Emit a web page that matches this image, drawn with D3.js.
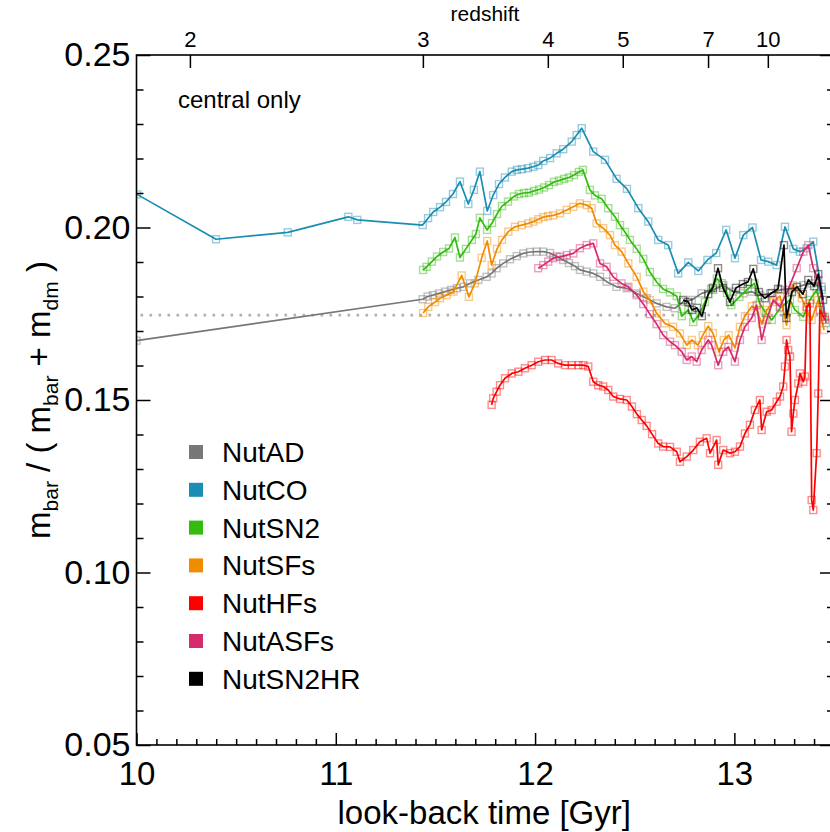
<!DOCTYPE html>
<html>
<head>
<meta charset="utf-8">
<script src="https://cdn.jsdelivr.net/npm/d3@7"></script>
<style>
  html, body { margin: 0; padding: 0; background: #fff; }
  svg { display: block; font-family: "Liberation Sans", Arial, Helvetica, sans-serif; }
</style>
</head>
<body>
<svg id="chart" width="830" height="832"></svg>
<script>
// ---------------- DATA ----------------
const seriesNames = ["NutAD", "NutCO", "NutSN2", "NutSFs", "NutHFs", "NutASFs", "NutSN2HR"];
const seriesColors = ["#777777", "#1a8db3", "#33bb0e", "#f08c00", "#ff0000", "#d62a6e", "#000000"];

const xTicks = [10, 11, 12, 13];
const yTicks = [0.05, 0.10, 0.15, 0.20, 0.25];
const redshiftLabels = ["2", "3", "4", "5", "7", "10"];
const redshiftTimes = [10.268, 11.437, 12.064, 12.44, 12.868, 13.168];
const cosmicFraction = 0.1746;

const dataAD = [
 [10.0,0.1672],[11.436,0.1792],[11.461,0.1800],[11.488,0.1804],[11.518,0.1809],[11.548,0.1814],
 [11.578,0.1819],[11.608,0.1824],[11.640,0.1828],[11.673,0.1838],[11.715,0.1848],[11.757,0.1857],
 [11.782,0.1867],[11.807,0.1882],[11.840,0.1896],[11.874,0.1908],[11.908,0.1917],[11.941,0.1925],
 [11.974,0.1929],[12.008,0.1930],[12.041,0.1930],[12.075,0.1926],[12.108,0.1916],[12.141,0.1906],
 [12.170,0.1897],[12.200,0.1888],[12.225,0.1877],[12.259,0.1872],[12.292,0.1867],[12.326,0.1857],
 [12.359,0.1843],[12.409,0.1828],[12.460,0.1824],[12.510,0.1809],[12.560,0.1795],[12.610,0.1780],
 [12.660,0.1770],[12.702,0.1766],[12.744,0.1785],[12.786,0.1790],[12.836,0.1809],[12.894,0.1819],
 [12.944,0.1833],[12.994,0.1814],[13.045,0.1809],[13.087,0.1814],[13.129,0.1804],[13.179,0.1809],
 [13.229,0.1819],[13.296,0.1824],[13.346,0.1833],[13.388,0.1838],[13.438,0.1828]
];
const dataCO = [
 [10.003,0.2096],[10.399,0.1966],[10.759,0.1986],[11.063,0.2031],[11.108,0.2022],[11.436,0.2007],
 [11.463,0.2027],[11.489,0.2045],[11.523,0.2059],[11.553,0.2074],[11.588,0.2097],[11.623,0.2133],
 [11.665,0.2068],[11.693,0.2109],[11.723,0.2162],[11.760,0.2048],[11.790,0.2094],[11.819,0.2126],
 [11.849,0.2145],[11.883,0.2162],[11.909,0.2167],[11.934,0.2169],[11.964,0.2172],[11.991,0.2176],
 [12.016,0.2181],[12.041,0.2193],[12.075,0.2201],[12.108,0.2215],[12.141,0.2227],[12.184,0.2249],
 [12.209,0.2268],[12.234,0.2288],[12.292,0.2220],[12.351,0.2196],[12.409,0.2141],[12.461,0.2112],
 [12.518,0.2056],[12.568,0.2017],[12.618,0.1964],[12.668,0.1949],[12.718,0.1867],[12.769,0.1899],
 [12.819,0.1874],[12.865,0.1906],[12.909,0.1926],[12.959,0.1993],[13.003,0.1911],[13.045,0.1978],
 [13.091,0.2000],[13.134,0.1906],[13.170,0.1901],[13.212,0.1891],[13.254,0.2002],[13.296,0.1938],
 [13.329,0.1930],[13.363,0.1940],[13.396,0.1959],[13.438,0.1819],[13.460,0.1723]
];
const dataSN2 = [
 [11.438,0.1877],[11.456,0.1886],[11.482,0.1901],[11.508,0.1916],[11.539,0.1929],[11.568,0.1939],
 [11.598,0.1971],[11.623,0.1913],[11.653,0.1938],[11.683,0.1964],[11.703,0.1981],[11.723,0.2028],
 [11.759,0.1993],[11.784,0.2013],[11.809,0.2039],[11.834,0.2062],[11.864,0.2075],[11.894,0.2090],
 [11.919,0.2097],[11.944,0.2100],[11.969,0.2101],[11.994,0.2106],[12.020,0.2110],[12.045,0.2116],
 [12.070,0.2123],[12.095,0.2132],[12.120,0.2136],[12.145,0.2141],[12.170,0.2145],[12.195,0.2152],
 [12.220,0.2161],[12.240,0.2167],[12.275,0.2109],[12.301,0.2093],[12.334,0.2083],[12.367,0.2056],
 [12.401,0.2031],[12.426,0.2007],[12.451,0.1987],[12.476,0.1964],[12.510,0.1938],[12.543,0.1909],
 [12.576,0.1871],[12.610,0.1842],[12.642,0.1822],[12.677,0.1812],[12.711,0.1801],[12.736,0.1743],
 [12.769,0.1761],[12.794,0.1726],[12.827,0.1751],[12.852,0.1784],[12.883,0.1822],[12.912,0.1852],
 [12.937,0.1839],[12.963,0.1810],[12.985,0.1775],[13.025,0.1799],[13.068,0.1822],[13.101,0.1838],
 [13.127,0.1780],[13.158,0.1752],[13.188,0.1732],[13.229,0.1766],[13.279,0.1790],[13.304,0.1761],
 [13.346,0.1741],[13.379,0.1790],[13.413,0.1819],[13.446,0.1741]
];
const dataSFs = [
 [11.438,0.1752],[11.464,0.1770],[11.498,0.1784],[11.523,0.1795],[11.556,0.1804],[11.590,0.1814],
 [11.632,0.1861],[11.668,0.1799],[11.698,0.1838],[11.732,0.1912],[11.760,0.1961],[11.782,0.1891],
 [11.809,0.1938],[11.834,0.1964],[11.866,0.1988],[11.899,0.2002],[11.933,0.2007],[11.966,0.2012],
 [11.991,0.2017],[12.016,0.2024],[12.041,0.2030],[12.065,0.2033],[12.091,0.2035],[12.125,0.2041],
 [12.159,0.2051],[12.192,0.2060],[12.225,0.2070],[12.259,0.2065],[12.284,0.2056],[12.309,0.2012],
 [12.342,0.1998],[12.376,0.1978],[12.401,0.1949],[12.434,0.1930],[12.468,0.1896],[12.510,0.1857],
 [12.543,0.1814],[12.576,0.1790],[12.610,0.1751],[12.652,0.1722],[12.693,0.1712],[12.727,0.1693],
 [12.761,0.1659],[12.787,0.1674],[12.817,0.1659],[12.842,0.1688],[12.869,0.1714],[12.892,0.1694],
 [12.923,0.1639],[12.947,0.1674],[12.972,0.1688],[13.003,0.1651],[13.028,0.1712],[13.053,0.1743],
 [13.088,0.1772],[13.113,0.1761],[13.138,0.1720],[13.163,0.1761],[13.194,0.1784],[13.229,0.1801],
 [13.262,0.1717],[13.294,0.1833],[13.338,0.1795],[13.363,0.1761],[13.388,0.1732],[13.420,0.1790],
 [13.450,0.1703]
];
const dataHFs = [
 [11.782,0.1486],[11.790,0.1505],[11.807,0.1524],[11.824,0.1543],[11.849,0.1563],[11.883,0.1577],
 [11.916,0.1582],[11.949,0.1592],[11.983,0.1601],[12.016,0.1611],[12.050,0.1616],[12.083,0.1616],
 [12.116,0.1606],[12.150,0.1601],[12.184,0.1601],[12.217,0.1601],[12.242,0.1601],[12.267,0.1597],
 [12.292,0.1553],[12.317,0.1543],[12.342,0.1539],[12.367,0.1529],[12.392,0.1510],[12.426,0.1503],
 [12.460,0.1500],[12.486,0.1481],[12.511,0.1459],[12.535,0.1442],[12.560,0.1425],[12.587,0.1401],
 [12.618,0.1374],[12.643,0.1365],[12.677,0.1364],[12.711,0.1350],[12.727,0.1321],[12.761,0.1336],
 [12.794,0.1355],[12.827,0.1379],[12.861,0.1389],[12.878,0.1346],[12.911,0.1384],[12.919,0.1312],
 [12.944,0.1355],[12.978,0.1346],[13.003,0.1350],[13.028,0.1365],[13.053,0.1403],[13.078,0.1428],
 [13.103,0.1471],[13.128,0.1500],[13.137,0.1413],[13.162,0.1466],[13.187,0.1471],[13.212,0.1495],
 [13.229,0.1510],[13.245,0.1539],[13.254,0.1597],[13.262,0.1674],[13.270,0.1645],[13.279,0.1626],
 [13.287,0.1408],[13.296,0.1461],[13.304,0.1500],[13.321,0.1548],[13.329,0.1577],[13.346,0.1553],
 [13.354,0.1568],[13.363,0.1770],[13.379,0.1780],[13.388,0.1210],[13.396,0.1181],[13.413,0.1346],
 [13.421,0.1519],[13.429,0.1761],[13.454,0.1732]
];
const dataASFs = [
 [12.016,0.1882],[12.041,0.1891],[12.066,0.1901],[12.091,0.1911],[12.125,0.1915],[12.159,0.1920],
 [12.192,0.1925],[12.225,0.1940],[12.259,0.1949],[12.292,0.1954],[12.326,0.1896],[12.359,0.1886],
 [12.392,0.1857],[12.434,0.1838],[12.468,0.1828],[12.510,0.1804],[12.543,0.1778],[12.576,0.1749],
 [12.610,0.1720],[12.643,0.1688],[12.677,0.1669],[12.702,0.1659],[12.736,0.1640],[12.761,0.1616],
 [12.786,0.1626],[12.811,0.1611],[12.836,0.1645],[12.869,0.1674],[12.886,0.1659],[12.919,0.1601],
 [12.944,0.1640],[12.970,0.1654],[13.003,0.1611],[13.028,0.1674],[13.053,0.1712],[13.087,0.1738],
 [13.112,0.1775],[13.137,0.1674],[13.162,0.1732],[13.195,0.1790],[13.229,0.1770],[13.269,0.1819],
 [13.313,0.1882],[13.346,0.1930],[13.371,0.1949],[13.396,0.1882],[13.421,0.1848],[13.455,0.1741]
];
const dataSN2HR = [
 [12.743,0.1790],[12.769,0.1784],[12.787,0.1761],[12.812,0.1767],[12.837,0.1743],[12.869,0.1807],
 [12.892,0.1825],[12.918,0.1882],[12.943,0.1825],[12.978,0.1784],[13.008,0.1825],[13.043,0.1836],
 [13.068,0.1842],[13.095,0.1880],[13.123,0.1813],[13.153,0.1795],[13.187,0.1810],[13.219,0.1822],
 [13.249,0.1949],[13.261,0.1738],[13.289,0.1813],[13.314,0.1828],[13.344,0.1807],[13.371,0.1848],
 [13.400,0.1830],[13.421,0.1865],[13.445,0.1790]
];
const seriesData = [dataAD, dataCO, dataSN2, dataSFs, dataHFs, dataASFs, dataSN2HR];

// ---------------- LAYOUT ----------------
const svg = d3.select("#chart");
const L = 136.5, R = 834, T = 55, B = 745;
const x = d3.scaleLinear().domain([10, 13.5]).range([L, R]);
const y = d3.scaleLinear().domain([0.05, 0.25]).range([B, T]);

svg.append("defs").append("clipPath").attr("id", "clip")
  .append("rect").attr("x", L).attr("y", T).attr("width", R - L).attr("height", B - T);

// dotted cosmic baryon fraction line
svg.append("line")
  .attr("x1", L + 4).attr("x2", R).attr("y1", y(cosmicFraction)).attr("y2", y(cosmicFraction))
  .attr("stroke", "#b0b0b0").attr("stroke-width", 2.6)
  .attr("stroke-dasharray", "2.6,6.4").attr("stroke-linecap", "butt");

// series
const plot = svg.append("g").attr("clip-path", "url(#clip)");
const line = d3.line().x(d => x(d[0])).y(d => y(d[1]));
seriesData.forEach((data, i) => {
  const g = plot.append("g");
  g.append("path").datum(data).attr("d", line)
    .attr("fill", "none").attr("stroke", seriesColors[i]).attr("stroke-width", 1.7)
    .attr("stroke-linejoin", "round");
  g.selectAll("rect").data(data).join("rect")
    .attr("x", d => x(d[0]) - 3.5).attr("y", d => y(d[1]) - 3.5)
    .attr("width", 7).attr("height", 7)
    .attr("fill", "none").attr("stroke", seriesColors[i])
    .attr("stroke-opacity", 0.45).attr("stroke-width", 1.4);
});

// axes
const axisFont = "Liberation Sans, Arial, sans-serif";
function styleAxis(g, fs) {
  g.select(".domain").remove();
  g.selectAll(".tick line").attr("stroke", "#000").attr("stroke-width", 1.5);
  g.selectAll("text").attr("font-family", axisFont).attr("font-size", fs).attr("fill", "#000");
}
const minorX = d3.range(100, 135).map(v => v / 10).filter(v => !xTicks.includes(v));
const minorY = d3.range(5, 26).map(v => v / 100).filter(v => !yTicks.some(t => Math.abs(t - v) < 1e-9));

svg.append("g").attr("transform", `translate(0,${B})`)
  .call(d3.axisBottom(x).tickValues(xTicks).tickFormat(d3.format("d")).tickSize(-12).tickPadding(17))
  .call(g => styleAxis(g, 33));
svg.append("g").attr("transform", `translate(0,${B})`)
  .call(d3.axisBottom(x).tickValues(minorX).tickFormat("").tickSize(-6))
  .call(g => styleAxis(g, 10));

svg.append("g").attr("transform", `translate(${L},0)`)
  .call(d3.axisLeft(y).tickValues(yTicks).tickFormat(d3.format(".2f")).tickSize(-14).tickPadding(6))
  .call(g => styleAxis(g, 34));
svg.append("g").attr("transform", `translate(${L},0)`)
  .call(d3.axisLeft(y).tickValues(minorY).tickFormat("").tickSize(-7))
  .call(g => styleAxis(g, 10));

svg.append("g").attr("transform", `translate(${R},0)`)
  .call(d3.axisRight(y).tickValues(yTicks).tickFormat("").tickSize(-14))
  .call(g => styleAxis(g, 10));
svg.append("g").attr("transform", `translate(${R},0)`)
  .call(d3.axisRight(y).tickValues(minorY).tickFormat("").tickSize(-7))
  .call(g => styleAxis(g, 10));

svg.append("g").attr("transform", `translate(0,${T})`)
  .call(d3.axisTop(x).tickValues(redshiftTimes).tickFormat((d, i) => redshiftLabels[i]).tickSize(-13).tickPadding(8))
  .call(g => styleAxis(g, 22));

// frame
svg.append("rect").attr("x", L).attr("y", T).attr("width", R - L).attr("height", B - T)
  .attr("fill", "none").attr("stroke", "#000").attr("stroke-width", 1.6);

// titles
svg.append("text").attr("x", 485).attr("y", 21).attr("text-anchor", "middle")
  .attr("font-family", axisFont).attr("font-size", 21).text("redshift");

svg.append("text").attr("x", (L + 834) / 2 - 1).attr("y", 824).attr("text-anchor", "middle")
  .attr("font-family", axisFont).attr("font-size", 33).text("look-back time [Gyr]");

const yl = svg.append("text").attr("transform", "translate(50,400) rotate(-90)")
  .attr("text-anchor", "middle").attr("font-family", axisFont).attr("font-size", 33);
const parts = [["m", false], ["bar", true], [" / ( m", false], ["bar", true], [" + m", false], ["dm", true], [" )", false]];
parts.forEach(([t, sub]) => {
  const ts = yl.append("tspan").text(t);
  if (sub) ts.attr("font-size", 21).attr("dy", 8);
  else ts.attr("dy", 0);
});
// reset baseline after subscripts
yl.selectAll("tspan").each(function(d, i) {
  const s = parts[i][1], prev = i > 0 ? parts[i - 1][1] : false;
  d3.select(this).attr("dy", s ? 8 : (prev ? -8 : 0));
});

svg.append("text").attr("x", 178).attr("y", 108)
  .attr("font-family", axisFont).attr("font-size", 24).text("central only");

// legend
const lg = svg.append("g");
seriesNames.forEach((n, i) => {
  const cy = 452 + i * 37.8;
  lg.append("rect").attr("x", 189).attr("y", cy - 7).attr("width", 14).attr("height", 14)
    .attr("fill", seriesColors[i]);
  lg.append("text").attr("x", 222).attr("y", cy + 10)
    .attr("font-family", axisFont).attr("font-size", 28).text(n);
});
</script>
</body>
</html>
